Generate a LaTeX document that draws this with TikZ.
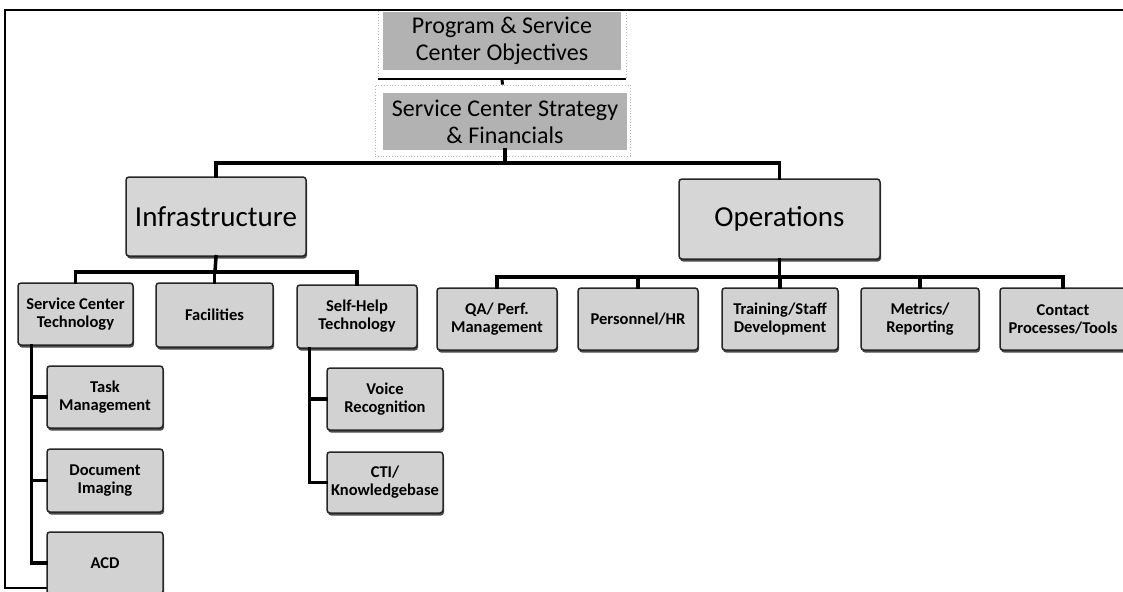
\documentclass[tikz,border=0pt]{standalone}
\usepackage{fontspec}
\setmainfont{Carlito}
\usetikzlibrary{shadows,calc}
\tikzset{
  conn/.style={draw=black, line width=3.5pt, line cap=rect},
  topbox/.style={fill=gray!60, draw=none, inner sep=0pt, align=center,
    font=\fontsize{24}{27}\selectfont},
  topframe/.style={fill=white, draw=gray!60, dotted, line width=0.8pt},
  bigbox/.style={fill=gray!32, draw=black!85, line width=1.5pt, rounded corners=3pt,
    inner sep=0pt, align=center, font=\fontsize{29}{32}\selectfont,
    drop shadow={shadow xshift=1pt, shadow yshift=-2.5pt, fill=black, opacity=0.7}},
  smallbox/.style={fill=gray!35, draw=black!85, line width=1.5pt, rounded corners=3pt,
    inner sep=0pt, align=center, font=\bfseries\fontsize{16.5}{18}\selectfont,
    drop shadow={shadow xshift=1pt, shadow yshift=-2.5pt, fill=black, opacity=0.7}}
}
\begin{document}
\begin{tikzpicture}[x=1pt, y=-1pt]
\useasboundingbox (0,0) rectangle (1123,591);

% top frames
\node[topframe, minimum width=248pt, minimum height=70pt] (f1) at (502,44) {};
\node[topframe, minimum width=255pt, minimum height=71pt] (f2) at (502.5,120.5) {};
\draw[line width=2pt] (f1.south west) -- (f1.south east);

% outer frame
\draw[line width=2pt] (1123,10) -- (5,10) -- (5,588) -- (160,588);

% top boxes
\node[topbox, minimum width=238pt, minimum height=58pt] (p1) at (502,41)
  {Program \& Service\\Center Objectives};
\node[topbox, minimum width=244pt, minimum height=57pt] (p2) at (505,121.5)
  {Service Center Strategy\\\& Financials};

% level 1
\node[bigbox, minimum width=180pt, minimum height=79pt] (infra) at (216,216.5) {Infrastructure};
\node[bigbox, minimum width=201pt, minimum height=80pt] (ops) at (779.5,219) {Operations};

% infrastructure children
\node[smallbox, minimum width=115pt, minimum height=62pt] (sct) at (75.5,314) {Service Center\\Technology};
\node[smallbox, minimum width=117pt, minimum height=64pt] (fac) at (214.5,315) {Facilities};
\node[smallbox, minimum width=120pt, minimum height=63pt] (shelp) at (357,316.5) {Self-Help\\Technology};

\node[smallbox, minimum width=116pt, minimum height=62pt] (task) at (105,397) {Task\\Management};
\node[smallbox, minimum width=116pt, minimum height=63pt] (doc) at (105,480.5) {Document\\Imaging};
\node[smallbox, minimum width=116pt, minimum height=62pt] (acd) at (105,563) {ACD};

\node[smallbox, minimum width=116pt, minimum height=62pt] (voice) at (385,399) {Voice\\Recognition};
\node[smallbox, minimum width=116pt, minimum height=61pt] (cti) at (385,482.5) {CTI/\\Knowledgebase};

% operations children
\node[smallbox, minimum width=120pt, minimum height=62pt] (qa) at (497,319) {QA/ Perf.\\Management};
\node[smallbox, minimum width=120pt, minimum height=62pt] (pers) at (638,319) {Personnel/HR};
\node[smallbox, minimum width=116pt, minimum height=62pt] (train) at (780,319) {Training/Staff\\Development};
\node[smallbox, minimum width=118pt, minimum height=62pt] (metr) at (920,319) {Metrics/\\Reporting};
\node[smallbox, minimum width=126pt, minimum height=62pt] (cont) at (1063,319) {Contact\\Processes/Tools};

% connectors
\draw[line width=3pt] (f1.south) -- (f2.north);

\coordinate (j1) at (505,163);
\draw[conn] (p2.south) -- (j1);
\draw[conn] (infra.north) |- (j1) -| (ops.north);

\coordinate (j2) at (215,272);
\draw[conn] (infra.south) -- (j2);
\draw[conn] (sct.north) |- (j2) -| (shelp.north);
\draw[conn] (fac.north) -- (fac.north |- j2);

\coordinate (j3) at (780,277);
\draw[conn] (ops.south) -- (ops.south |- j3);
\draw[conn] (qa.north) |- (j3) -| (cont.north);
\draw[conn] (pers.north) -- (pers.north |- j3);
\draw[conn] (train.north) -- (train.north |- j3);
\draw[conn] (metr.north) -- (metr.north |- j3);

\coordinate (s1) at ($(sct.south west)+(14,0)$);
\draw[conn] (s1) |- (task.west);
\draw[conn] (s1) |- (doc.west);
\draw[conn] (s1) |- (acd.west);

\coordinate (s2) at ($(shelp.south west)+(13,0)$);
\draw[conn] (s2) |- (voice.west);
\draw[conn] (s2) |- (cti.west);
\end{tikzpicture}
\end{document}
